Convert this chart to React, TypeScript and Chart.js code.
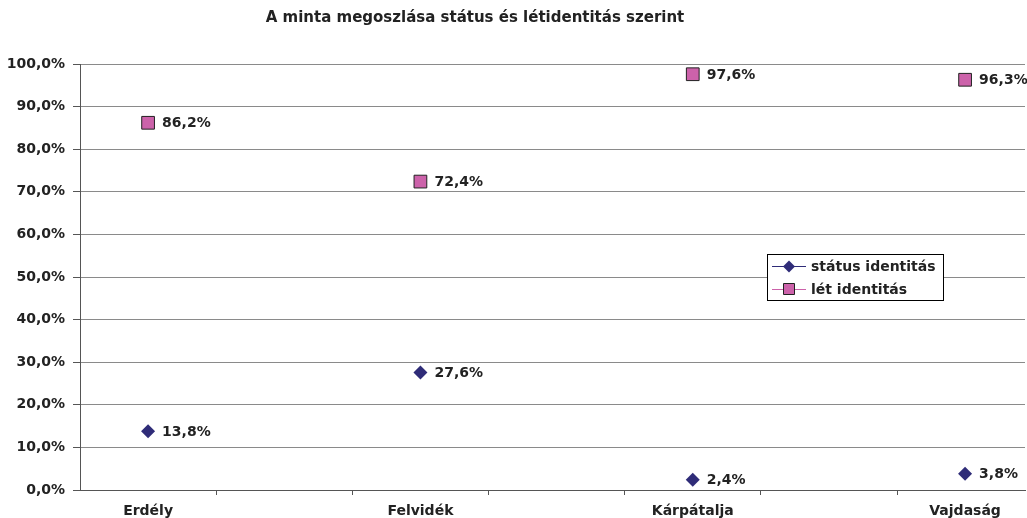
import React, { useEffect, useRef } from 'react';
import { Chart, registerables } from 'chart.js';

Chart.register(...registerables);

const chartTitle = 'A minta megoszlása státus és létidentitás szerint';
const categories = ['Erdély', 'Felvidék', 'Kárpátalja', 'Vajdaság'];
const seriesNames = ['státus identitás', 'lét identitás'];
const statusValues = [13.8, 27.6, 2.4, 3.8];
const letValues = [86.2, 72.4, 97.6, 96.3];
const xTickValues = [0, 0.25, 0.75, 1, 1.25, 1.75, 2, 2.25, 2.75, 3];

const NAVY = '#2f2c78';
const PINK = '#cc62aa';
const FONT = '"DejaVu Sans", Verdana, sans-serif';

const fmt = (v: number) => v.toFixed(1).replace('.', ',') + '%';

export default function App() {
  const ref = useRef<HTMLCanvasElement>(null);

  useEffect(() => {
    if (!ref.current) return;

    const titlePlugin = {
      id: 'customTitle',
      afterDraw(chart: any) {
        const ctx = chart.ctx;
        ctx.save();
        ctx.font = `bold 15px ${FONT}`;
        ctx.fillStyle = '#222';
        ctx.textAlign = 'center';
        ctx.textBaseline = 'middle';
        ctx.fillText(chartTitle, 475, 18);
        ctx.restore();
      },
    };

    const labelPlugin = {
      id: 'dataLabels',
      afterDatasetsDraw(chart: any) {
        const ctx = chart.ctx;
        ctx.save();
        ctx.font = `bold 14px ${FONT}`;
        ctx.fillStyle = '#222';
        ctx.textAlign = 'left';
        ctx.textBaseline = 'middle';
        chart.data.datasets.forEach((ds: any, di: number) => {
          const meta = chart.getDatasetMeta(di);
          meta.data.forEach((pt: any, i: number) => {
            ctx.fillText(fmt(ds.data[i].y), pt.x + 14, pt.y + 1);
          });
        });
        ctx.restore();
      },
    };

    const legendPlugin = {
      id: 'customLegend',
      afterDraw(chart: any) {
        const ctx = chart.ctx;
        const bx = 767, by = 254, bw = 176, bh = 46;
        ctx.save();
        ctx.fillStyle = '#fff';
        ctx.fillRect(bx, by, bw, bh);
        ctx.strokeStyle = '#000';
        ctx.lineWidth = 1;
        ctx.strokeRect(bx + 0.5, by + 0.5, bw, bh);
        const rows = [266, 289];
        chart.data.datasets.forEach((ds: any, di: number) => {
          const y = rows[di];
          ctx.strokeStyle = ds.backgroundColor;
          ctx.lineWidth = 1;
          ctx.beginPath();
          ctx.moveTo(772, y + 0.5);
          ctx.lineTo(806, y + 0.5);
          ctx.stroke();
          ctx.fillStyle = ds.backgroundColor;
          ctx.beginPath();
          if (di === 0) {
            ctx.moveTo(789 - 6, y + 0.5);
            ctx.lineTo(789, y - 5.5);
            ctx.lineTo(789 + 6, y + 0.5);
            ctx.lineTo(789, y + 6.5);
            ctx.closePath();
            ctx.fill();
          } else {
            ctx.rect(783.5, y - 5.5, 11, 11);
            ctx.fill();
            ctx.strokeStyle = '#222';
            ctx.stroke();
          }
          ctx.font = `bold 14px ${FONT}`;
          ctx.fillStyle = '#222';
          ctx.textAlign = 'left';
          ctx.textBaseline = 'middle';
          ctx.fillText(ds.label, 811, y + 1);
        });
        ctx.restore();
      },
    };

    const chart = new Chart(ref.current, {
      type: 'scatter',
      data: {
        datasets: [
          {
            label: seriesNames[0],
            data: statusValues.map((v, i) => ({ x: i, y: v })),
            pointStyle: 'rectRot',
            pointRadius: 7,
            backgroundColor: NAVY,
            borderColor: NAVY,
            borderWidth: 0,
            showLine: false,
          },
          {
            label: seriesNames[1],
            data: letValues.map((v, i) => ({ x: i, y: v })),
            pointStyle: 'rect',
            pointRadius: 9,
            backgroundColor: PINK,
            borderColor: '#222',
            borderWidth: 1,
            showLine: false,
          },
        ],
      },
      options: {
        responsive: false,
        animation: false,
        layout: { autoPadding: false, padding: { top: 64, right: 2, left: 0, bottom: 0 } },
        plugins: {
          legend: { display: false },
          title: { display: false },
          tooltip: { enabled: false },
        },
        scales: {
          x: {
            type: 'linear',
            min: -0.25,
            max: 3.22,
            afterBuildTicks: (scale: any) => {
              scale.ticks = xTickValues.map((v) => ({ value: v }));
            },
            afterFit: (scale: any) => {
              scale.height = 28;
              scale.paddingLeft = 0;
              scale.paddingRight = 0;
            },
            ticks: {
              autoSkip: false,
              maxRotation: 0,
              minRotation: 0,
              padding: 8,
              color: '#222',
              font: { family: FONT, size: 14, weight: 'bold' },
              callback: (v: any) => (Number.isInteger(v) ? categories[v] : ''),
            },
            grid: {
              drawOnChartArea: false,
              tickLength: 5,
              tickColor: (ctx: any) =>
                ctx.tick && Number.isInteger(ctx.tick.value) ? 'rgba(0,0,0,0)' : '#555',
            },
            border: { color: '#555', width: 1 },
          },
          y: {
            type: 'linear',
            min: 0,
            max: 100,
            afterFit: (scale: any) => {
              scale.width = 80;
              scale.paddingTop = 0;
              scale.paddingBottom = 0;
            },
            ticks: {
              stepSize: 10,
              padding: 8,
              color: '#222',
              font: { family: FONT, size: 14, weight: 'bold' },
              callback: (v: any) => fmt(Number(v)),
            },
            grid: {
              color: '#8a8a8a',
              tickLength: 7,
              tickColor: '#555',
            },
            border: { color: '#555', width: 1 },
          },
        },
      },
      plugins: [titlePlugin, labelPlugin, legendPlugin],
    } as any);

    return () => chart.destroy();
  }, []);

  return (
    <div style={{ position: 'fixed', left: 0, top: 0, width: 1027, height: 518, overflow: 'hidden', background: '#fff' }}>
      <canvas ref={ref} width={1027} height={518} style={{ display: 'block' }} />
    </div>
  );
}
